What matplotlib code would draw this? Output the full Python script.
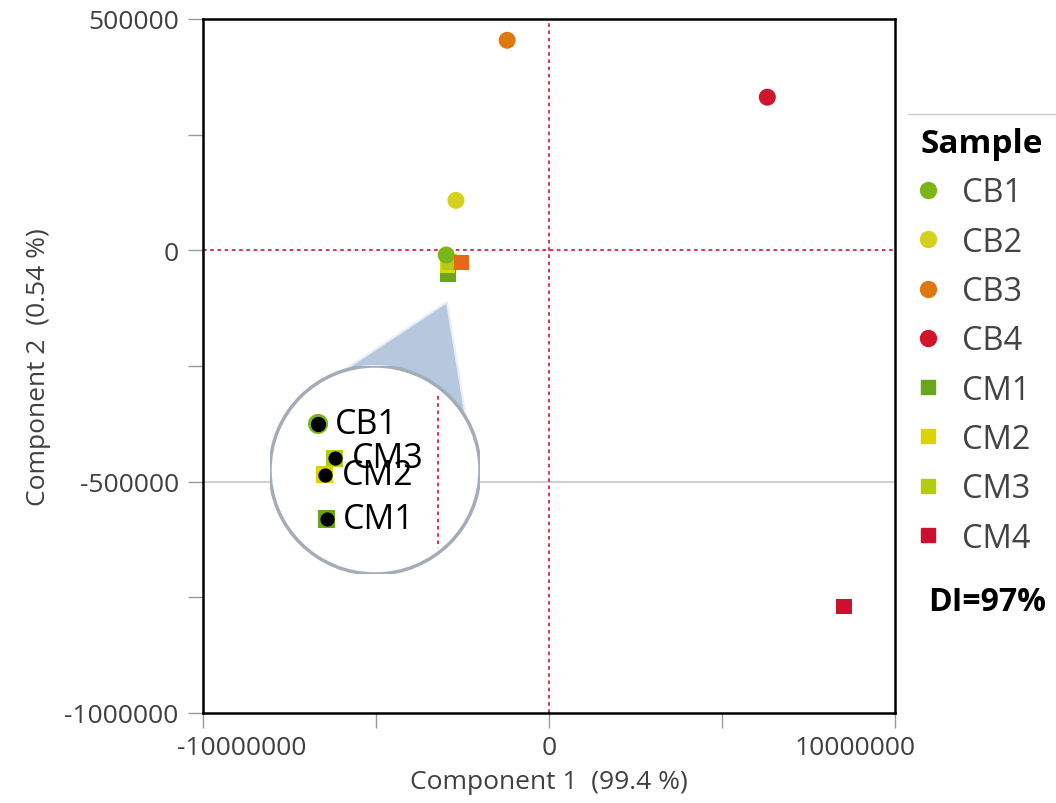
import numpy as np
import matplotlib.pyplot as plt
from matplotlib.patches import Ellipse, Polygon
from matplotlib.lines import Line2D
from matplotlib.transforms import ScaledTranslation

plt.rcParams['font.family'] = ['Open Sans', 'DejaVu Sans']

# PCA scores per sample
samples = ['CB1', 'CB2', 'CB3', 'CB4', 'CM1', 'CM2', 'CM3', 'CM4']
comp1 = [-2.97e6, -2.69e6, -1.21e6, 6.31e6, -2.92e6, -2.93e6, -2.87e6, 8.53e6]
comp2 = [-10000, 108000, 454000, 331000, -52000, -32500, -25200, -770000]
colors = ['#7cb518', '#d4d21c', '#e07812', '#d0142c',
          '#6aa51a', '#dcd400', '#b2cc12', '#cc1030']
markers = ['o', 'o', 'o', 'o', 's', 's', 's', 's']

# stray point with no legend entry
extra_c1, extra_c2 = -2.53e6, -26000
extra_color = '#e8681a'

xticks = [-1e7, 0, 1e7]
yticks = [-1e6, -5e5, 0, 5e5]

# samples shown in the magnifier, and its view window
zoomed = ['CB1', 'CM3', 'CM2', 'CM1']
zoom_xlim = (-3.254e6, -2.013e6)
zoom_ylim = (-76300, 15600)
zoom_vline = (-2.26e6, 2400, -65000)
callout_tip = (-2.95e6, -112000)

fig = plt.figure(figsize=(10.56, 8.04), dpi=100)
ax = fig.add_axes([203/1056, 1-714/804, 692/1056, 694/804])
ax.set_xlim(-1e7, 1e7)
ax.set_ylim(-1e6, 5e5)

ax.axhline(-5e5, color='#c8c8c8', lw=1.2, zorder=0)
red = '#dc2440'
ax.axhline(0, color=red, ls=(0, (2, 2)), lw=1.3, zorder=1)
ax.axvline(0, color=red, ls=(0, (2, 2)), lw=1.3, zorder=1)

order = [4, 5, 6, 7, 0, 1, 2, 3]
for i in order:
    size = 150 if markers[i] == 'o' else 125
    ax.scatter(comp1[i], comp2[i], s=size, marker=markers[i], color=colors[i],
               edgecolors='none', zorder=3)
ax.scatter(extra_c1, extra_c2, s=125, marker='s', color=extra_color,
           edgecolors='none', zorder=3)

ax.set_xticks(xticks, labels=[f'{int(v)}' for v in xticks])
ax.set_yticks(yticks, labels=[f'{int(v)}' for v in yticks])
ax.set_xticks([-5e6, 5e6], minor=True)
ax.set_yticks([-7.5e5, -2.5e5, 2.5e5], minor=True)
ax.tick_params(which='both', direction='out', length=10.5, width=1,
               color='#999999', labelsize=19, labelcolor='#404040')
ax.tick_params(axis='x', pad=5)
ax.tick_params(axis='y', pad=7)
# end labels sit inside the axis span
for lab, dx in zip(ax.get_xticklabels(), [0.39, 0, -0.40]):
    lab.set_transform(lab.get_transform() + ScaledTranslation(dx, 0, fig.dpi_scale_trans))
for s in ax.spines.values():
    s.set_color('black')
    s.set_linewidth(1.8)

ax.set_xlabel('Component 1  (99.4 %)', fontsize=19, color='#404040', labelpad=7)
ax.set_ylabel('Component 2  (0.54 %)', fontsize=19, color='#404040', labelpad=10)

# magnifier
ax_in = fig.add_axes([270/1056, 1-575/804, 210/1056, 208/804])
ax_in.axis('off')
ax_in.patch.set_visible(False)
ax_in.set_xlim(*zoom_xlim)
ax_in.set_ylim(*zoom_ylim)
ax_in.set_zorder(3)
lens = Ellipse((0.5, 0.5), 1, 1, transform=ax_in.transAxes, facecolor='white',
               edgecolor='#a4acb8', lw=2.5, zorder=0)
ax_in.add_patch(lens)
vl = ax_in.plot([zoom_vline[0]] * 2, zoom_vline[1:], color=red,
                ls=(0, (2, 2)), lw=1.3, zorder=1)[0]
vl.set_clip_path(lens)
for name in zoomed:
    i = samples.index(name)
    if markers[i] == 'o':
        s_out, s_in = 210, 100
    else:
        s_out, s_in = 150, 85
    ax_in.scatter(comp1[i], comp2[i], s=s_out, marker=markers[i], color=colors[i],
                  edgecolors='none', zorder=2)
    ax_in.scatter(comp1[i], comp2[i], s=s_in, marker='o', color='black', zorder=3)
    ax_in.annotate(name, (comp1[i], comp2[i]), xytext=(12, 0),
                   textcoords='offset points', va='center', fontsize=24.5,
                   color='black', zorder=4)

# callout wedge from the cluster to the lens
tip = ax.transData.transform(callout_tip)
ang = np.radians(np.linspace(30, 108, 30))
rim = ax_in.transAxes.transform(np.column_stack([0.5 + 0.5*np.cos(ang),
                                                 0.5 + 0.5*np.sin(ang)]))
pts = fig.transFigure.inverted().transform(np.vstack([tip, rim]))
fig.add_artist(Polygon(pts, closed=True, facecolor='#b5c8dd', edgecolor='#e8eef4',
                       lw=1.5, zorder=2))

# legend
handles = [Line2D([], [], marker=m, ls='', color=c,
                  markersize=11.5 if m == 'o' else 9.5)
           for m, c in zip(markers, colors)]
fig.legend(handles, samples, loc='upper left',
           bbox_to_anchor=(920/1056, 1-128/804), frameon=False,
           title='Sample', title_fontproperties={'weight': 'bold', 'size': 24},
           fontsize=23.5, labelcolor='#444444', handlelength=0.5,
           handletextpad=0.79, labelspacing=0.5, alignment='left',
           borderaxespad=0, borderpad=0)
fig.add_artist(Line2D([908/1056, 1], [1-115/804]*2, color='#cccccc', lw=1))
fig.text(987/1056, 1-603/804, 'DI=97%', ha='center', va='center',
         fontsize=23, fontweight='bold')

fig.savefig('out.png', dpi=100)
